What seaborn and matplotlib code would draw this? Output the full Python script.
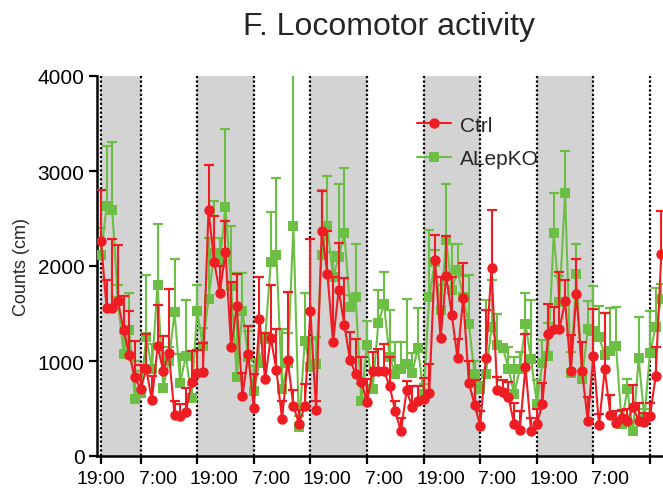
import numpy as np
import pandas as pd
import matplotlib
matplotlib.use("Agg")
import matplotlib.pyplot as plt
from matplotlib.lines import Line2D
import seaborn as sns

# ---- data ----
ctrl_mean = [2264, 1560, 1560, 1630, 1330, 1065, 832, 701, 915, 585,
             1157, 896, 1080, 428, 425, 461, 775, 878, 883, 2585,
             2044, 1720, 2150, 1143, 1578, 630, 1070, 507, 1443, 807,
             1247, 902, 386, 1010, 524, 340, 524, 1525, 489, 2370,
             1921, 1203, 1744, 1383, 1009, 867, 782, 567, 896, 896,
             896, 736, 471, 259, 690, 514, 584, 595, 666, 2062,
             1242, 1892, 1480, 1030, 1666, 772, 542, 319, 1030, 1984,
             690, 676, 620, 337, 277, 938, 259, 337, 549, 1284,
             1337, 1337, 1631, 896, 1702, 896, 372, 1055, 323, 913,
             436, 348, 400, 372, 514, 365, 358, 418, 842, 2126]
ctrl_upper = [2804, 1857, 2283, 2218, 1680, 1523, 1206, 955, 1284, 840,
              1585, 1262, 1761, 584, 552, 719, 1108, 1115, 1185, 3059,
              2522, 2002, 2476, 1832, 1914, 878, 1373, 860, 1885, 1291,
              1797, 1337, 584, 1730, 700, 489, 754, 2288, 577, 2787,
              2373, 1885, 2239, 1875, 1302, 1231, 1037, 807, 1097, 1125,
              1178, 1037, 577, 400, 789, 736, 736, 825, 966, 2327,
              1885, 2320, 1885, 1230, 2027, 1000, 800, 471, 1532, 2592,
              830, 800, 780, 560, 470, 1280, 400, 500, 772, 1603,
              1567, 1938, 1850, 1270, 2069, 1200, 620, 1550, 440, 1504,
              640, 470, 480, 490, 747, 560, 450, 560, 1143, 2575]
ko_mean = [2115, 2630, 2592, 1630, 1070, 1330, 600, 666, 1250, 913,
           1797, 719, 1000, 1514, 772, 1055, 613, 1525, 1160, 1650,
           2140, 2050, 2620, 1790, 830, 1530, 1037, 683, 984, 1231,
           2044, 2115, 701, 975, 2423, 302, 1207, 940, 973, 2115,
           2423, 1885, 2090, 2345, 1567, 1673, 577, 1171, 701, 1398,
           1603, 1037, 867, 920, 966, 878, 1136, 655, 1673, 2044,
           1532, 2274, 1744, 1956, 1673, 1390, 860, 701, 860, 1355,
           1171, 1140, 920, 650, 913, 1385, 1019, 550, 984, 1050,
           2345, 1620, 2770, 878, 1915, 810, 1337, 1320, 1249, 1068,
           1110, 1161, 342, 705, 259, 1030, 400, 1085, 1355, 1650]
ko_upper = [2395, 3260, 3306, 1797, 1300, 1716, 1000, 900, 1910, 1178,
            2440, 1267, 1150, 2073, 1072, 1640, 750, 1804, 1350, 2292,
            2681, 2300, 3440, 2425, 1930, 1930, 1313, 949, 1443, 1300,
            2567, 2928, 1337, 1300, 4600, 420, 1716, 1230, 1249, 2804,
            2946, 2150, 2864, 3034, 1700, 2232, 760, 1426, 900, 1744,
            1938, 1532, 1196, 1196, 1655, 1079, 1557, 760, 2380, 2168,
            1800, 2868, 2232, 2232, 1900, 1903, 1000, 780, 1638, 1857,
            1497, 1171, 1150, 1044, 1100, 1716, 1645, 800, 1221, 1400,
            2769, 1900, 3211, 1100, 2232, 900, 1627, 1786, 1574, 1504,
            1560, 1567, 400, 807, 300, 1461, 500, 1525, 1772, 1815]

# light/dark boundaries (sample index), where the ticks and dotted lines sit
boundaries = [0, 7, 17, 27, 37, 47, 57, 67, 77, 87, 97]
# the clock labels are placed every 12 h from the first sample
label_positions = [0, 10, 20, 30, 40, 50, 60, 70, 80, 90]
tick_labels = ["19:00", "7:00", "19:00", "7:00", "19:00", "7:00",
               "19:00", "7:00", "19:00", "7:00"]
dark_periods = [(0, 7), (17, 27), (37, 47), (57, 67), (77, 87)]
series_names = ["Ctrl", "ALepKO"]

# ---- style ----
sns.set_style("ticks")
plt.rcParams["font.family"] = ["Liberation Sans", "DejaVu Sans"]

RED = "#EE1D23"
GREEN = "#6CBE45"

fig = plt.figure(figsize=(6.63, 4.89), dpi=100)
ax = fig.add_axes([97 / 663, 1 - 457 / 489, 1 - 97 / 663, 380 / 489])

x = np.arange(len(ctrl_mean))
df = pd.DataFrame({"t": x, "Ctrl": ctrl_mean, "ALepKO": ko_mean})

for a, b in dark_periods:
    ax.axvspan(a, b, color="#D3D3D3", lw=0, zorder=0)
for bnd in boundaries:
    ax.axvline(bnd, color="black", ls=(0, (1, 1)), lw=1.6, zorder=1)

# ALepKO (green squares)
ax.vlines(x, ko_mean, ko_upper, color=GREEN, lw=1.5, zorder=2)
ax.plot(x, ko_upper, ls="none", marker="_", ms=7, mew=1.6, color=GREEN, zorder=2)
sns.lineplot(data=df, x="t", y="ALepKO", ax=ax, color=GREEN, lw=1.5,
             marker="s", markersize=6.5, markeredgewidth=0, zorder=3)

# Ctrl (red circles)
ax.vlines(x, ctrl_mean, ctrl_upper, color=RED, lw=1.5, zorder=4)
ax.plot(x, ctrl_upper, ls="none", marker="_", ms=7, mew=1.6, color=RED, zorder=4)
sns.lineplot(data=df, x="t", y="Ctrl", ax=ax, color=RED, lw=1.5,
             marker="o", markersize=7.5, markeredgewidth=0, zorder=5)

ax.set_xlim(-0.7, 99.3)
ax.set_ylim(0, 4000)
ax.set_yticks([0, 1000, 2000, 3000, 4000])
ax.xaxis.remove_overlapping_locs = False
ax.set_xticks(boundaries)
ax.set_xticklabels([""] * len(boundaries))
ax.set_xticks(label_positions, minor=True)
ax.set_xticklabels(tick_labels, minor=True)
ax.set_xlabel("")
ax.set_ylabel("Counts (cm)", fontsize=13)
ax.yaxis.set_label_coords(-0.118, 0.5)
ax.tick_params(axis="both", which="major", direction="out", length=6, width=1.6,
               color="black", labelcolor="black")
ax.tick_params(axis="y", labelsize=15, pad=3)
ax.tick_params(axis="x", which="minor", length=0, labelsize=14, pad=10,
               labelcolor="black")
for s in ["left", "bottom"]:
    ax.spines[s].set_linewidth(1.8)
    ax.spines[s].set_color("black")
for s in ["top", "right"]:
    ax.spines[s].set_visible(False)

handles = [
    Line2D([], [], color=RED, lw=1.5, marker="o", markersize=7.5, markeredgewidth=0),
    Line2D([], [], color=GREEN, lw=1.5, marker="s", markersize=6.5, markeredgewidth=0),
]
ax.legend(handles, series_names, loc="upper left", bbox_to_anchor=(0.533, 0.945),
          frameon=False, fontsize=15, handlelength=1.6, handletextpad=0.45,
          labelspacing=0.7)

fig.text(0.587, 0.945, "F. Locomotor activity", ha="center", va="center", fontsize=23)

fig.savefig("out.png", dpi=100)
